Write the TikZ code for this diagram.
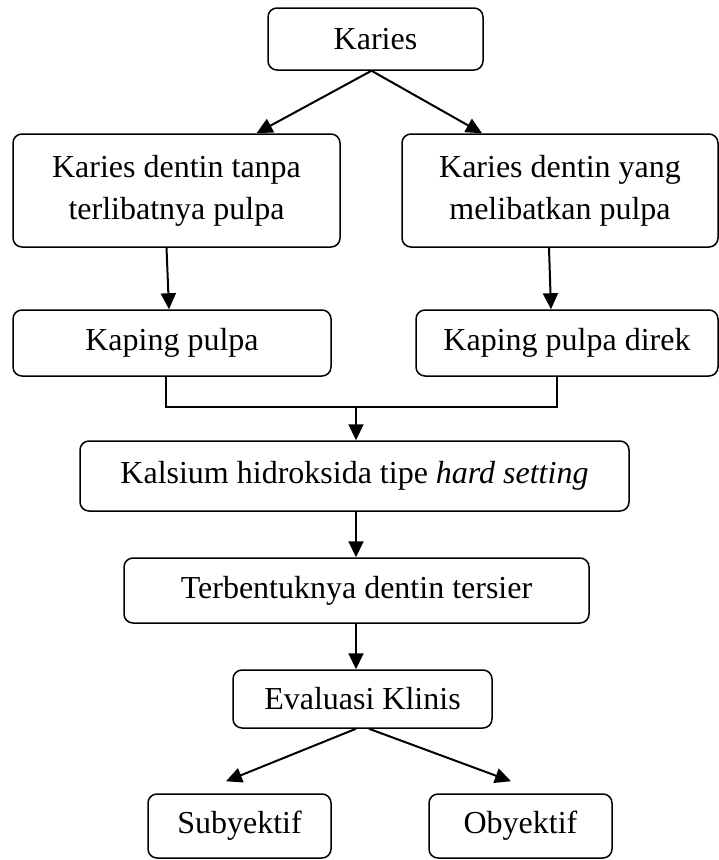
\documentclass[tikz,border=0pt]{standalone}
\usepackage{fontspec}
\setmainfont{Liberation Serif}
\usetikzlibrary{arrows.meta}
\begin{document}
\begin{tikzpicture}[x=1pt,y=-1pt,
  box/.style={draw, line width=1.5pt, rounded corners=9pt, inner sep=0pt, align=center,
    font=\fontsize{32}{42}\selectfont},
  arr/.style={line width=2pt, -{Triangle[length=16pt,width=15pt]}},
  ln/.style={line width=2pt}]
\useasboundingbox (0,0) rectangle (719,860);
\node[box, minimum width=215pt, minimum height=62pt] (karies) at (375.5,39) {Karies};
\node[box, minimum width=327pt, minimum height=113pt] (b1l) at (176.5,190.5) {Karies dentin tanpa\\terlibatnya pulpa};
\node[box, minimum width=316pt, minimum height=113pt] (b1r) at (560,190.5) {Karies dentin yang\\melibatkan pulpa};
\node[box, minimum width=318pt, minimum height=66pt] (kp) at (172,343) {Kaping pulpa};
\node[box, minimum width=302pt, minimum height=66pt] (kpd) at (567,343) {Kaping pulpa direk};
\node[box, minimum width=549pt, minimum height=70pt] (kal) at (354.5,476) {Kalsium hidroksida tipe \textit{hard setting}};
\node[box, minimum width=465pt, minimum height=65pt] (ter) at (356.5,590.5) {Terbentuknya dentin tersier};
\node[box, minimum width=259pt, minimum height=58pt] (eva) at (362.5,699) {Evaluasi Klinis};
\node[box, minimum width=183pt, minimum height=64pt] (sub) at (239.5,826) {Subyektif};
\node[box, minimum width=183pt, minimum height=64pt] (oby) at (520.5,826) {Obyektif};
\coordinate (j) at (356,407);
\draw[arr] ([xshift=-4pt]karies.south) -- ([xshift=80pt]b1l.north);
\draw[arr] ([xshift=-4pt]karies.south) -- ([xshift=-78pt]b1r.north);
\draw[arr] ([xshift=-10pt]b1l.south) -- ([xshift=-3pt]kp.north);
\draw[arr] ([xshift=-11pt]b1r.south) -- ([xshift=-16pt]kpd.north);
\draw[ln] ([xshift=-6pt]kp.south) |- (j) -| ([xshift=-10pt]kpd.south);
\draw[arr] (j) -- (j |- kal.north);
\draw[arr] (j |- kal.south) -- (j |- ter.north);
\draw[arr] (j |- ter.south) -- (j |- eva.north);
\draw[arr] ([xshift=-6.5pt]eva.south) -- ([xshift=-13.5pt,yshift=12pt]sub.north);
\draw[arr] ([xshift=6.5pt]eva.south) -- ([xshift=-9.5pt,yshift=12pt]oby.north);
\end{tikzpicture}
\end{document}
